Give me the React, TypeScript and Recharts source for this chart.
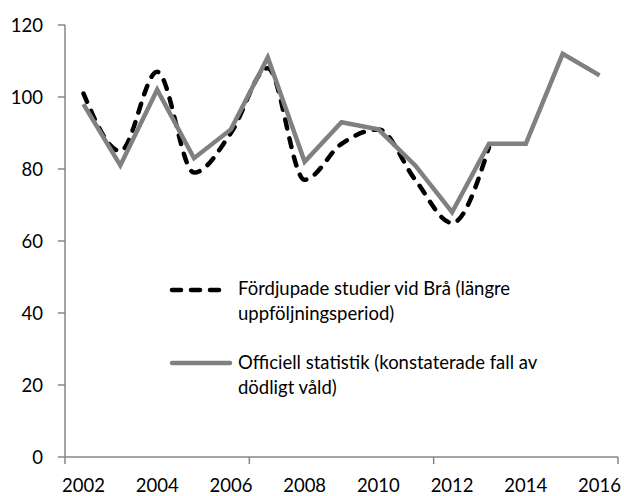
import React from 'react';
import { LineChart, Line, XAxis, YAxis } from 'recharts';

const years = [2002, 2003, 2004, 2005, 2006, 2007, 2008, 2009, 2010, 2011, 2012, 2013, 2014, 2015, 2016];
const braValues: (number | null)[] = [101, 85, 107, 79, 90, 108, 77, 87, 91, 77, 65, 86, null, null, null];
const officialValues: (number | null)[] = [98, 81, 102, 83, 91, 111, 82, 93, 91, 81, 68, 87, 87, 112, 106];
const yTicks = [0, 20, 40, 60, 80, 100, 120];
const xLabelYears = [2002, 2004, 2006, 2008, 2010, 2012, 2014, 2016];
const xTickMarks = [2001.5, 2006.5, 2011.5, 2016.5];
const braLegendLines = ['Fördjupade studier vid Brå (längre', 'uppföljningsperiod)'];
const officialLegendLines = ['Officiell statistik (konstaterade fall av', 'dödligt våld)'];

const data = years.map((y, i) => ({ year: y, bra: braValues[i], official: officialValues[i] }));
const allXTicks = [...xTickMarks, ...xLabelYears].sort((a, b) => a - b);

const FONT = 'Lato, "Open Sans", sans-serif';
const AXIS = '#868686';
const GRAY = '#808080';

const XTick = (props: any) => {
  const { x, y, payload } = props;
  const v = payload.value;
  if (xTickMarks.includes(v)) {
    return <line x1={x} x2={x} y1={y} y2={y + 7} stroke={AXIS} strokeWidth={1.5} />;
  }
  return (
    <text x={x} y={y + 35} textAnchor="middle" fill="#000" fontSize={18.5} fontFamily={FONT}>
      {v}
    </text>
  );
};

export default function App() {
  return (
    <div style={{ position: 'absolute', left: 0, top: 0, width: 624, height: 496, background: '#fff' }}>
      <LineChart width={624} height={496} data={data} margin={{ top: 25, right: 6, bottom: 0, left: 0 }}>
        <XAxis
          dataKey="year"
          type="number"
          domain={[2001.5, 2016.5]}
          ticks={allXTicks}
          interval={0}
          tick={<XTick />}
          tickLine={false}
          tickSize={0}
          tickMargin={0}
          height={39}
          axisLine={{ stroke: AXIS, strokeWidth: 1.5 }}
        />
        <YAxis
          type="number"
          domain={[0, 120]}
          ticks={yTicks}
          interval={0}
          width={65}
          tickSize={7}
          tickMargin={15}
          axisLine={{ stroke: AXIS, strokeWidth: 1.5 }}
          tickLine={{ stroke: AXIS, strokeWidth: 1.5 }}
          tick={{ fill: '#000', fontSize: 18.5, fontFamily: FONT }}
        />
        <Line
          dataKey="bra"
          type="monotone"
          stroke="#000"
          strokeWidth={4.5}
          strokeDasharray="9 10"
          strokeLinecap="round"
          dot={false}
          activeDot={false}
          isAnimationActive={false}
        />
        <Line
          dataKey="official"
          type="linear"
          stroke={GRAY}
          strokeWidth={4.5}
          dot={false}
          activeDot={false}
          isAnimationActive={false}
        />
      </LineChart>
      <svg
        width={624}
        height={496}
        style={{ position: 'absolute', left: 0, top: 0, pointerEvents: 'none' }}
      >
        <line x1={172} x2={226} y1={290} y2={290} stroke="#000" strokeWidth={4.5} strokeDasharray="9 10" strokeLinecap="round" />
        {braLegendLines.map((t, i) => (
          <text key={t} x={238} y={295 + i * 25} fill="#000" fontSize={18.5} fontFamily={FONT}>
            {t}
          </text>
        ))}
        <line x1={172} x2={230} y1={363} y2={363} stroke={GRAY} strokeWidth={4.5} strokeLinecap="round" />
        {officialLegendLines.map((t, i) => (
          <text key={t} x={238} y={369 + i * 25} fill="#000" fontSize={18.5} fontFamily={FONT}>
            {t}
          </text>
        ))}
      </svg>
    </div>
  );
}
